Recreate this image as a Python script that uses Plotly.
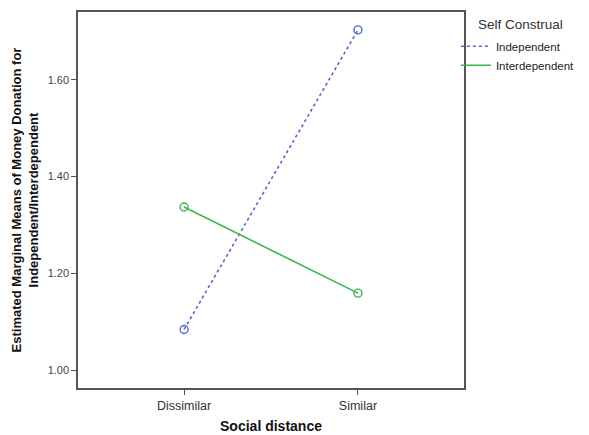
import plotly.graph_objects as go

# Estimated marginal means of money donation by social distance and self construal
categories = ["Dissimilar", "Similar"]
independent = [1.084, 1.703]
interdependent = [1.337, 1.159]
y_ticks = [1.00, 1.20, 1.40, 1.60]
y_tick_labels = ["1.00", "1.20", "1.40", "1.60"]

series = [
    ("Independent", independent, "#5068cc", "dot"),
    ("Interdependent", interdependent, "#3cb54a", "solid"),
]

x_idx = list(range(len(categories)))

fig = go.Figure()
for name, values, color, dash in series:
    fig.add_trace(go.Scatter(
        x=x_idx, y=values, name=name, mode="lines+markers", showlegend=False,
        line=dict(color=color, width=1.6, dash=dash),
        marker=dict(symbol="circle-open", size=8, color=color, line=dict(width=1.4)),
    ))
# line-only legend keys
for name, values, color, dash in series:
    fig.add_trace(go.Scatter(
        x=[None], y=[None], name=name, mode="lines",
        line=dict(color=color, width=1.6, dash=dash),
    ))

axis_common = dict(
    showline=True, linecolor="#555555", linewidth=1.5, mirror=True,
    ticks="outside", ticklen=5, tickcolor="#555555", tickwidth=1.2,
    showgrid=False, zeroline=False,
)

fig.update_layout(
    width=589, height=435,
    margin=dict(l=78, r=125, t=12, b=47, autoexpand=False),
    paper_bgcolor="white", plot_bgcolor="white",
    font=dict(family="Liberation Sans, Arial, sans-serif", color="#222222"),
    xaxis=dict(
        **axis_common,
        tickmode="array", tickvals=x_idx, ticktext=categories,
        range=[-0.61, 1.61],
        tickfont=dict(size=12.5, color="#333333"),
        title=dict(text="<b>Social distance</b>", font=dict(size=14, color="#111111"), standoff=9),
    ),
    yaxis=dict(
        **axis_common,
        tickmode="array", tickvals=y_ticks, ticktext=y_tick_labels,
        range=[0.963, 1.740],
        tickfont=dict(size=11, color="#444444"),
        title=dict(
            text="<b>Estimated Marginal Means of Money Donation for<br>Independent/Interdependent</b>",
            font=dict(size=13, color="#111111"), standoff=6,
        ),
    ),
    legend=dict(
        xref="container", yref="container",
        x=0.774, xanchor="left", y=0.927, yanchor="top",
        font=dict(size=11.5, color="#222222"),
        itemwidth=30, tracegroupgap=0,
        bgcolor="rgba(0,0,0,0)",
    ),
    annotations=[dict(
        text="Self Construal", xref="paper", yref="paper",
        x=1.03, y=0.968, xanchor="left", yanchor="middle",
        showarrow=False, font=dict(size=13.5, color="#333333"),
    )],
)

fig.write_html("out.html")
